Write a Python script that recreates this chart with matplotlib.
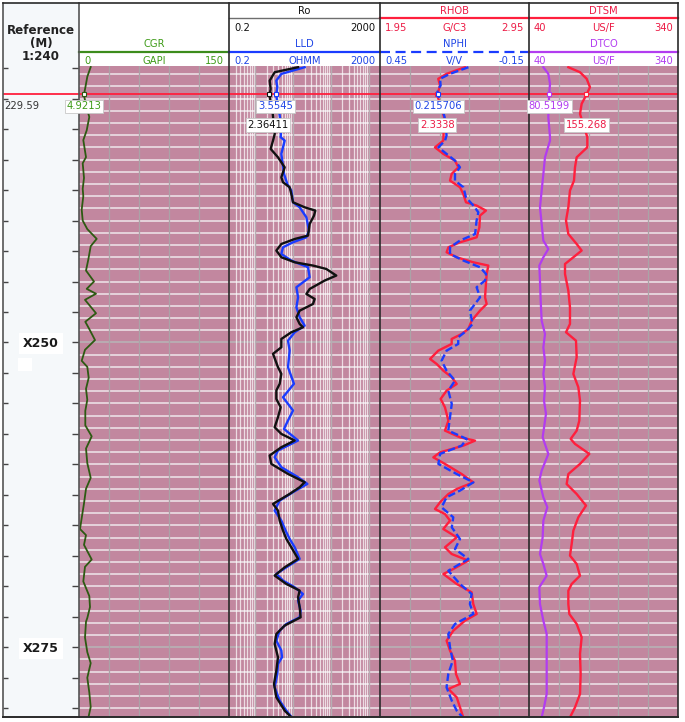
import numpy as np
import matplotlib
matplotlib.use("Agg")
import matplotlib.pyplot as plt
from matplotlib.patches import Rectangle

# ---------------- data (depth in m, values in curve units) ----------------
cgr_depth = [227.4, 228.2, 229.1, 229.7, 230.7, 231.5, 232.6, 233.4, 234.8, 235.3, 236.5, 237.4, 238.0, 239.1,
             240.0, 240.7, 241.5, 242.1, 243.2, 244.1, 245.0, 245.6, 246.0, 246.5, 247.6, 248.3, 248.9, 249.8,
             250.6, 251.5, 252.0, 252.9, 253.8, 254.7, 255.6, 256.8, 257.7, 258.7, 259.9, 261.1, 262.0, 263.2,
             264.4, 265.3, 265.8, 266.6, 267.8, 268.4, 269.6, 270.8, 271.7, 272.6, 272.9, 274.2, 275.4, 276.3,
             277.5, 278.7, 279.9, 280.8]
cgr = [11.7, 8.3, 6.3, 4.9, 7.5, 10.3, 7.7, 4.3, 7.0, 3.7, 5.0, 3.7, 4.3, 2.7, 3.7, 8.3, 17.7, 11.7, 9.3, 7.0,
       15.0, 7.7, 17.0, 6.0, 17.0, 6.3, 10.3, 16.0, 6.0, 2.7, 8.3, 9.7, 7.0, 8.3, 6.3, 6.3, 12.7, 7.0, 8.3, 11.7,
       7.0, 5.0, 2.7, 1.0, 7.0, 5.0, 12.7, 6.0, 4.3, 10.3, 11.0, 8.3, 7.0, 6.0, 8.3, 11.7, 8.3, 10.3, 11.7, 9.3]

lld_depth = [227.42, 227.97, 228.52, 229.06, 229.7, 231.39, 232.34, 233.16, 233.44, 234.53, 236.17, 237.0, 237.54,
             238.50, 238.91, 239.73, 240.82, 241.37, 241.78, 242.19, 242.74, 243.28, 243.83, 244.65, 245.47, 246.29,
             247.11, 247.93, 248.62, 249.16, 249.85, 250.66, 252.03, 253.39, 254.49, 255.58, 256.40, 257.09, 258.04,
             258.86, 259.41, 260.23, 261.05, 261.60, 262.28, 262.97, 263.79, 264.61, 265.56, 266.11, 266.80, 267.75,
             268.44, 268.98, 269.53, 270.08, 270.63, 271.17, 271.99, 272.54, 273.09, 273.63, 274.45, 275.27, 275.82,
             276.37, 277.19, 278.28, 279.38, 280.20, 280.88]
lld = [20.2, 4.86, 3.58, 3.81, 3.55, 4.41, 4.86, 4.68, 5.97, 4.87, 5.73, 7.02, 8.95, 9.92, 14.9, 22.4, 26.3, 22.4,
       9.92, 5.39, 4.87, 8.95, 24.8, 27.4, 12.2, 13.5, 12.2, 14.9, 20.2, 11.0, 7.31, 8.09, 7.31, 10.5, 5.39, 9.92,
       7.31, 5.73, 13.5, 3.97, 3.24, 4.87, 13.5, 23.8, 9.92, 4.40, 3.24, 4.87, 6.60, 8.09, 11.0, 14.9, 6.60, 3.59,
       5.39, 11.0, 18.2, 13.5, 15.8, 14.9, 6.60, 4.40, 3.59, 4.87, 5.07, 3.97, 3.81, 3.24, 4.40, 6.60, 9.92]

ro_depth = [227.42, 227.83, 228.52, 229.20, 229.7, 231.3, 232.9, 233.44, 234.12, 234.81, 235.63, 236.45, 236.86,
            237.27, 237.82, 238.50, 238.91, 239.18, 239.59, 240.28, 241.23, 241.51, 241.92, 242.46, 243.01, 243.42,
            243.69, 243.97, 244.51, 244.92, 245.61, 246.02, 246.43, 246.84, 247.39, 247.93, 248.48, 248.75, 249.16,
            249.71, 250.39, 250.93, 252.03, 252.57, 253.39, 253.94, 254.63, 255.31, 256.13, 256.95, 257.50, 258.04,
            258.59, 259.27, 259.96, 260.78, 261.46, 261.87, 262.42, 263.24, 263.79, 264.61, 265.43, 266.11, 266.80,
            267.75, 268.44, 269.12, 269.81, 270.35, 270.90, 271.72, 272.54, 273.22, 273.91, 274.73, 275.82, 276.91,
            278.01, 279.10, 280.20, 280.88]
ro = [13.5, 3.25, 2.39, 2.54, 2.36, 2.9, 3.25, 2.93, 2.54, 3.97, 5.97, 4.87, 5.39, 8.09, 8.95, 9.92, 20.2, 38.7,
      35.7, 27.4, 24.8, 11.0, 4.87, 3.59, 4.87, 11.0, 33.6, 75.7, 139, 68.4, 27.4, 22.4, 37.2, 33.6, 14.9, 12.2,
      14.9, 18.2, 8.95, 4.87, 4.87, 2.93, 3.97, 4.87, 4.40, 3.59, 3.59, 4.67, 3.97, 3.24, 4.87, 11.0, 4.87, 2.39,
      2.64, 7.31, 20.2, 14.9, 8.09, 2.93, 3.97, 4.40, 5.39, 6.60, 8.95, 13.5, 5.97, 3.24, 6.60, 14.9, 13.5, 14.9,
      15.8, 5.97, 3.59, 3.24, 3.97, 3.59, 3.11, 3.59, 5.97, 9.92]

rhob_depth = [227.42, 227.96, 228.37, 228.92, 229.7, 231.5, 233.44, 233.99, 234.53, 235.08, 235.63, 236.17, 236.72,
              237.27, 237.82, 238.50, 238.77, 239.18, 239.59, 240.55, 241.37, 241.78, 242.19, 242.60, 243.01, 243.42,
              243.69, 244.38, 245.20, 246.29, 246.84, 247.39, 248.21, 248.89, 249.30, 249.71, 250.12, 250.67, 251.35,
              251.76, 252.31, 252.85, 253.40, 253.95, 254.63, 255.32, 256.41, 257.23, 257.78, 258.05, 258.46, 259.01,
              259.42, 259.96, 260.79, 261.47, 262.02, 262.43, 263.11, 263.66, 264.07, 264.61, 265.30, 265.98, 266.80,
              267.35, 267.89, 268.58, 268.99, 269.81, 270.49, 271.45, 272.27, 272.82, 273.64, 274.46, 275.28, 276.10,
              277.19, 278.01, 278.42, 279.11, 279.93, 280.75]
rhob = [2.52, 2.397, 2.341, 2.353, 2.334, 2.38, 2.375, 2.319, 2.375, 2.453, 2.476, 2.431, 2.420, 2.487, 2.509,
        2.527, 2.599, 2.661, 2.621, 2.617, 2.599, 2.487, 2.409, 2.397, 2.465, 2.576, 2.677, 2.666, 2.661, 2.655,
        2.666, 2.621, 2.565, 2.543, 2.498, 2.431, 2.431, 2.341, 2.286, 2.330, 2.375, 2.431, 2.465, 2.397, 2.357,
        2.386, 2.409, 2.386, 2.487, 2.588, 2.509, 2.353, 2.308, 2.386, 2.498, 2.576, 2.465, 2.409, 2.353, 2.319,
        2.386, 2.420, 2.375, 2.465, 2.386, 2.431, 2.543, 2.442, 2.375, 2.465, 2.565, 2.576, 2.599, 2.520, 2.442,
        2.397, 2.420, 2.453, 2.460, 2.487, 2.409, 2.465, 2.487, 2.509]

nphi_depth = [227.42, 227.96, 228.37, 228.92, 229.33, 229.7, 231.5, 233.02, 233.44, 233.99, 234.53, 235.08, 235.63,
              236.17, 236.72, 237.27, 238.09, 238.77, 239.32, 240.00, 241.10, 241.64, 242.19, 242.74, 243.28, 243.83,
              244.38, 244.92, 245.47, 246.29, 247.39, 248.48, 249.03, 249.57, 250.12, 250.67, 251.49, 252.31, 253.13,
              253.95, 255.04, 256.41, 257.23, 257.91, 258.46, 259.14, 259.96, 260.79, 261.47, 262.15, 262.70, 263.52,
              264.34, 265.16, 266.12, 266.94, 267.76, 268.72, 269.81, 270.63, 271.45, 272.27, 273.09, 273.91, 275.00,
              276.10, 277.19, 278.29, 279.38, 280.20, 280.75]
nphi = [0.094, 0.168, 0.208, 0.206, 0.219, 0.216, 0.19, 0.182, 0.188, 0.215, 0.182, 0.148, 0.128, 0.148, 0.148,
        0.114, 0.104, 0.074, 0.054, 0.061, 0.067, 0.128, 0.168, 0.168, 0.114, 0.047, 0.023, 0.027, 0.061, 0.047,
        0.088, 0.077, 0.101, 0.135, 0.135, 0.182, 0.202, 0.182, 0.148, 0.175, 0.161, 0.17, 0.175, 0.101, 0.121,
        0.208, 0.215, 0.141, 0.074, 0.128, 0.182, 0.202, 0.155, 0.161, 0.128, 0.148, 0.094, 0.175, 0.128, 0.081,
        0.088, 0.074, 0.148, 0.175, 0.168, 0.157, 0.175, 0.182, 0.161, 0.141, 0.117]

dtco_depth = [227.42, 227.96, 228.78, 229.7, 231.52, 233.16, 233.44, 234.81, 236.17, 237.54, 238.91, 240.28, 241.64,
              242.33, 243.01, 243.69, 244.92, 246.57, 248.21, 249.30, 250.40, 251.49, 252.58, 253.67, 254.77, 255.86,
              256.41, 257.78, 259.14, 260.51, 261.33, 262.70, 263.52, 264.61, 265.98, 267.35, 268.17, 269.13, 270.08,
              271.45, 272.82, 273.91, 275.55, 277.19, 278.83, 279.93, 280.75]
dtco = [68.9, 78.9, 82.3, 80.5, 78.9, 82.3, 82.3, 72.2, 68.9, 65.5, 62.1, 65.5, 68.9, 78.9, 68.9, 60.8, 62.1, 63.5,
        65.5, 72.2, 68.9, 72.2, 68.9, 72.2, 70.2, 74.2, 72.2, 67.5, 78.9, 65.5, 60.8, 68.9, 76.9, 68.9, 67.5, 62.1,
        68.9, 75.6, 60.8, 62.1, 68.9, 75.6, 75.6, 75.6, 75.6, 70.2, 65.5]

dtsm_depth = [227.42, 227.83, 228.37, 229.06, 229.7, 230.42, 231.25, 233.16, 233.99, 234.81, 235.63, 236.72, 237.54,
              238.91, 240.00, 241.10, 241.92, 242.46, 243.01, 243.56, 244.38, 245.75, 247.11, 248.48, 249.16, 249.85,
              251.21, 252.58, 253.67, 254.77, 256.41, 257.23, 257.91, 258.32, 259.14, 259.96, 260.79, 261.61, 262.43,
              263.38, 264.34, 265.43, 266.53, 267.48, 268.17, 269.13, 269.81, 270.36, 271.45, 272.27, 273.09, 274.18,
              275.55, 277.19, 278.83, 279.93, 280.75]
dtsm = [119.2, 142.7, 156.1, 162.8, 155.3, 146.0, 142.7, 157.4, 157.4, 136.0, 132.6, 130.6, 122.5, 119.2, 114.5,
        119.2, 136.0, 146.0, 129.3, 112.5, 112.5, 119.2, 122.5, 122.5, 114.5, 134.6, 136.0, 129.3, 139.3, 142.7,
        141.3, 136.0, 123.9, 132.6, 161.5, 142.7, 119.2, 115.8, 136.0, 154.8, 139.3, 129.3, 125.9, 122.5, 136.0,
        142.7, 125.9, 119.2, 119.2, 121.2, 136.0, 146.0, 142.7, 144.0, 142.7, 132.6, 122.5]

cursor_depth = 229.59
cursor_vals = {"CGR": "4.9213", "LLD": "3.5545", "Ro": "2.36411", "NPHI": "0.215706",
               "RHOB": "2.3338", "DTCO": "80.5199", "DTSM": "155.268"}
depth_labels = [250, 275]

# ---------------- styling ----------------
W, H = 685, 722
TOP, BOT = 227.32, 280.72
Y0, Y1 = 66, 717
PINK = "#C2879F"
HGRID = "#E8D8E0"
VGRID = "#ABA3A7"
GREEN_T = "#3E9B18"
CGR_C = "#2D5A12"
BLUE = "#1A3CFF"
BLUE_T = "#2046E6"
RED = "#FF1F3D"
RED_T = "#EC1B45"
PURPLE = "#B23CF0"
BLACK = "#111111"
DEPTH_BG = "#F5F8FA"
FS = 7.2

fig = plt.figure(figsize=(W / 100, H / 100), dpi=100)

bg = fig.add_axes([0, 0, 1, 1], zorder=-5)
bg.set_xlim(0, W); bg.set_ylim(H, 0); bg.axis("off")
bg.add_patch(Rectangle((3, 3), 76, 714, fc=DEPTH_BG, ec="none"))


def px_axes(x0, x1, z=0):
    a = fig.add_axes([x0 / W, 1 - Y1 / H, (x1 - x0) / W, (Y1 - Y0) / H], zorder=z)
    a.set_ylim(BOT, TOP)
    a.set_xticks([]); a.set_yticks([])
    for s in a.spines.values():
        s.set_visible(False)
    return a


def base_track(x0, x1, lo, hi, log=False):
    a = px_axes(x0, x1)
    a.set_facecolor(PINK)
    if log:
        a.set_xscale("log")
    a.set_xlim(lo, hi)
    a.set_xticks([]); a.set_xticks([], minor=True)
    for d in range(228, 281):
        c = "#B9AEB4" if d % 25 == 0 else HGRID
        a.axhline(d, color=c, lw=1.3, zorder=1)
    if log:
        for e in range(-1, 4):
            for k in range(1, 10):
                v = k * 10.0 ** e
                if lo < v < hi:
                    if k == 1:
                        a.axvline(v, color="#B7AEB3", lw=1.0, zorder=1.5)
                    else:
                        a.axvline(v, color="white", lw=0.9, alpha=0.7, zorder=1.5)
    else:
        for v in np.linspace(lo, hi, 6)[1:-1]:
            a.axvline(v, color=VGRID, lw=0.9, zorder=1.5)
    a.axhline(cursor_depth, color=RED, lw=1.3, zorder=5)
    return a


def overlay_axes(x0, x1, lo, hi, log=False):
    a = px_axes(x0, x1, z=1)
    a.patch.set_alpha(0)
    if log:
        a.set_xscale("log")
    a.set_xlim(lo, hi)
    a.set_xticks([]); a.set_xticks([], minor=True)
    return a


def marker(a, x, color):
    a.plot([x], [cursor_depth], marker="s", ms=3.2, mfc="white", mec=color, mew=0.8, zorder=25)


# depth column
dax = px_axes(3, 79)
dax.set_facecolor(DEPTH_BG)
dax.set_xlim(0, 1)
ticks = np.arange(227.5, 281, 2.5)
yt = dax.get_yaxis_transform()
dax.hlines(ticks, 0, 5 / 76, transform=yt, color="#444444", lw=1.0)
dax.hlines(ticks, 1 - 7 / 76, 1, transform=yt, color="#444444", lw=1.0)
for d in depth_labels:
    dax.text(0.5, d + 0.1, "X%d" % d, ha="center", va="center", fontsize=9, fontweight="bold", color="#1a1a1a",
             bbox=dict(boxstyle="square,pad=0.3", fc="white", ec="none"), zorder=5)
dax.axhline(cursor_depth, color=RED, lw=1.3, zorder=5)

# track 1 CGR
t1 = base_track(79, 229, 0, 150)
t1.plot(cgr, cgr_depth, color=CGR_C, lw=1.3, zorder=10, solid_joinstyle="round")
marker(t1, float(cursor_vals["CGR"]), CGR_C)

# track 2 resistivity
t2 = base_track(229, 380, 0.2, 2000, log=True)
t2.plot(lld, lld_depth, color=BLUE, lw=1.7, zorder=10, solid_joinstyle="round")
t2.plot(ro, ro_depth, color=BLACK, lw=1.7, zorder=11, solid_joinstyle="round")
marker(t2, float(cursor_vals["LLD"]), BLUE)
marker(t2, float(cursor_vals["Ro"]), BLACK)

# track 3 density / neutron
t3 = base_track(380, 529, 1.95, 2.95)
t3.plot(rhob, rhob_depth, color=RED, lw=1.7, zorder=10, solid_joinstyle="round")
marker(t3, float(cursor_vals["RHOB"]), RED)
t3b = overlay_axes(380, 529, 0.45, -0.15)
t3b.set_ylim(BOT, TOP)
t3b.plot(nphi, nphi_depth, color=BLUE, lw=1.7, zorder=10, dashes=(3.2, 1.4))
marker(t3b, float(cursor_vals["NPHI"]), BLUE)

# track 4 sonic
t4 = base_track(529, 678, 40, 340)
t4.plot(dtco, dtco_depth, color=PURPLE, lw=1.6, zorder=10, solid_joinstyle="round")
t4.plot(dtsm, dtsm_depth, color=RED, lw=1.7, zorder=10, solid_joinstyle="round")
marker(t4, float(cursor_vals["DTCO"]), PURPLE)
marker(t4, float(cursor_vals["DTSM"]), RED)

# ---------------- header / borders overlay ----------------
ov = fig.add_axes([0, 0, 1, 1], zorder=10)
ov.set_xlim(0, W); ov.set_ylim(H, 0); ov.axis("off")
ov.patch.set_alpha(0)


def t(x, y, s, c, ha="center", **kw):
    ov.text(x, y, s, ha=ha, va="center", fontsize=FS, color=c, **kw)


def header_scale(x0, x1, y, lo, unit, hi, c):
    t(x0 + 5, y, lo, c, ha="left")
    t((x0 + x1) / 2, y, unit, c)
    t(x1 - 5, y, hi, c, ha="right")


for i, s in enumerate(["Reference", "(M)", "1:240"]):
    ov.text(41, 31 + 13 * i, s, ha="center", va="center", fontsize=8.6, fontweight="bold", color="#222222")

# track 1
t(154, 44, "CGR", GREEN_T)
ov.plot([79, 229], [52, 52], color="#3C8C1C", lw=1.6)
header_scale(79, 229, 61, "0", "GAPI", "150", GREEN_T)
# track 2
t(304.5, 11, "Ro", BLACK)
ov.plot([229, 380], [17.5, 17.5], color="#6E6E6E", lw=1.0)
header_scale(229, 380, 28, "0.2", "", "2000", BLACK)
t(304.5, 44, "LLD", BLUE_T)
ov.plot([229, 380], [52, 52], color=BLUE, lw=1.6)
header_scale(229, 380, 61, "0.2", "OHMM", "2000", BLUE_T)
# track 3
t(454.5, 11, "RHOB", RED_T)
ov.plot([380, 529], [18, 18], color=RED, lw=1.6)
header_scale(380, 529, 28, "1.95", "G/C3", "2.95", RED_T)
t(454.5, 44, "NPHI", BLUE_T)
ov.plot([380, 529], [52, 52], color=BLUE, lw=1.6, dashes=(4.5, 2.5))
header_scale(380, 529, 61, "0.45", "V/V", "-0.15", BLUE_T)
# track 4
t(603.5, 11, "DTSM", RED_T)
ov.plot([529, 678], [18, 18], color=RED, lw=1.6)
header_scale(529, 678, 28, "40", "US/F", "340", RED_T)
t(603.5, 44, "DTCO", PURPLE)
ov.plot([529, 678], [52, 52], color=PURPLE, lw=1.6)
header_scale(529, 678, 61, "40", "US/F", "340", PURPLE)

# borders
for x in [3, 79, 229, 380, 529, 678]:
    ov.plot([x, x], [3, Y1], color="#2a2a2a" if x not in (3, 79) else "#555555", lw=1.2)
ov.plot([3, 678], [3, 3], color="#2a2a2a", lw=1.2)
ov.plot([3, 678], [Y1, Y1], color="#2a2a2a", lw=1.4)


# cursor value read-outs (boxes centred on the curve value, drawn above borders)
def vlabel(a, x, dy, txt, color):
    ov.text(x, cursor_depth + dy, txt, transform=a.transData, ha="center", va="center", fontsize=FS,
            color=color, zorder=30, clip_on=False,
            bbox=dict(boxstyle="square,pad=0.18", fc="white", ec="#C8C8C8", lw=0.6))


vlabel(t1, float(cursor_vals["CGR"]), 1.05, cursor_vals["CGR"], GREEN_T)
vlabel(t2, 3.4, 1.05, cursor_vals["LLD"], BLUE_T)
vlabel(t2, 2.15, 2.57, cursor_vals["Ro"], BLACK)
vlabel(t3b, float(cursor_vals["NPHI"]), 1.05, cursor_vals["NPHI"], BLUE_T)
vlabel(t3, float(cursor_vals["RHOB"]), 2.57, cursor_vals["RHOB"], RED_T)
vlabel(t4, float(cursor_vals["DTCO"]), 1.05, cursor_vals["DTCO"], PURPLE)
vlabel(t4, float(cursor_vals["DTSM"]), 2.57, cursor_vals["DTSM"], RED_T)

# cursor depth readout and small marker box
ov.text(4, 106, "%.2f" % cursor_depth, ha="left", va="center", fontsize=FS, color="#333333")
ov.add_patch(Rectangle((18, 358), 14, 13, fc="white", ec="none"))

fig.savefig("out.png", dpi=100)
